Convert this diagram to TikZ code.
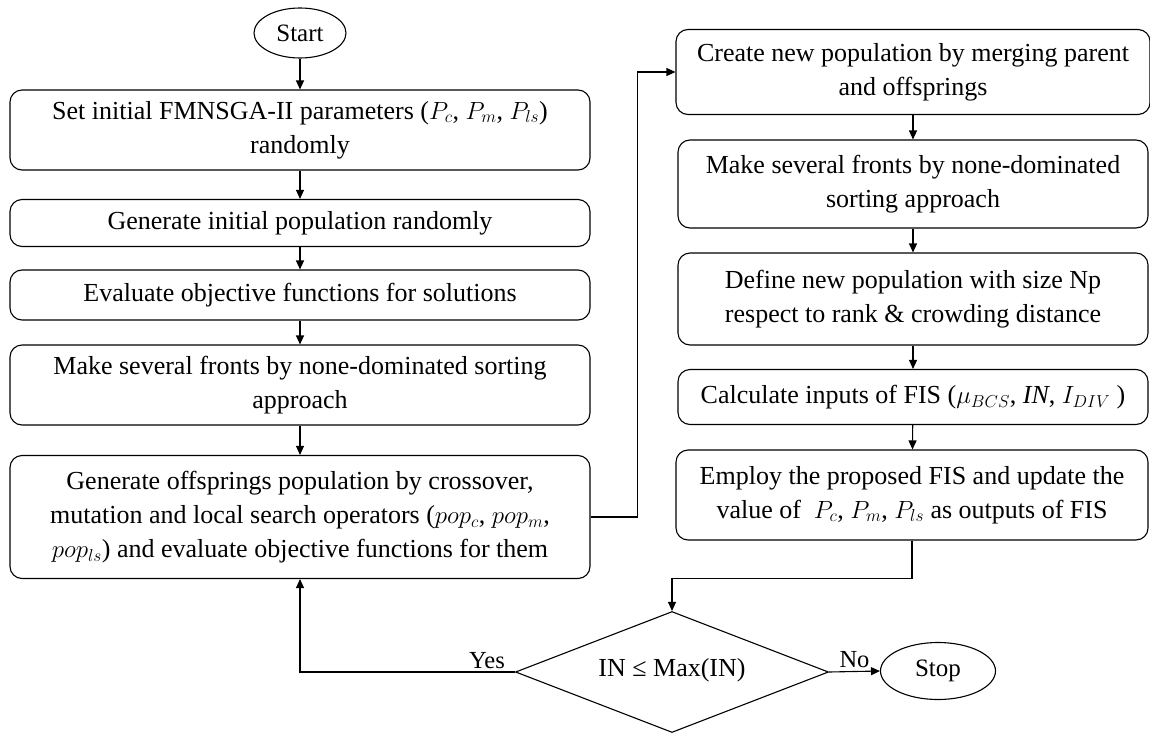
\documentclass[tikz,border=0pt]{standalone}
\usepackage{fontspec}
\setmainfont{Liberation Serif}
\usetikzlibrary{shapes.geometric}
\usetikzlibrary{arrows.meta}

\begin{document}
\begin{tikzpicture}[x=1pt,y=-1pt,
        every node/.style={font=\fontsize{26}{34}\selectfont},
        proc/.style={draw,rounded corners=12pt,align=center,inner sep=0pt,line width=1.1pt},
        term/.style={draw,ellipse,inner sep=0pt,line width=1.1pt,font=\fontsize{25}{28}\selectfont},
        decision/.style={draw,diamond,aspect=2.6,inner sep=0pt,line width=1.1pt,minimum width=313pt,minimum height=121pt},
        arr/.style={-{Triangle[length=9pt,width=8pt]},line width=1.1pt},
        lbl/.style={font=\fontsize{24.5}{28}\selectfont,inner sep=3pt},
    ]
    \useasboundingbox (0,0) rectangle (1150,733);

    % left column
    \node[term,minimum width=92pt,minimum height=50pt] (start) at (300,33) {Start};
    \node[proc,minimum width=580pt,minimum height=80pt] (init) at (300,130)
        {Set initial FMNSGA-II parameters ($P_c$, $P_m$, $P_{ls}$)\\randomly};
    \node[proc,minimum width=580pt,minimum height=47pt] (pop) at (300,223)
        {Generate initial population randomly};
    \node[proc,minimum width=580pt,minimum height=50pt] (eval) at (300,295)
        {Evaluate objective functions for solutions};
    \node[proc,minimum width=580pt,minimum height=80pt] (fronts) at (300,385)
        {Make several fronts by none-dominated sorting\\approach};
    \node[proc,minimum width=580pt,minimum height=123pt] (offs) at (300,517)
        {Generate offsprings population by crossover,\\
         mutation and local search operators ($pop_c$, $pop_m$,\\
         $pop_{ls}$) and evaluate objective functions for them};

    % right column
    \node[proc,minimum width=474pt,minimum height=85pt] (merge) at (913,72)
        {Create new population by merging parent\\and offsprings};
    \node[proc,minimum width=470pt,minimum height=88pt] (fronts2) at (913,184)
        {Make several fronts by none-dominated\\sorting approach};
    \node[proc,minimum width=470pt,minimum height=92pt] (define) at (913,299)
        {Define new population with size Np\\respect to rank \& crowding distance};
    \node[proc,minimum width=470pt,minimum height=55pt] (fisin) at (913,397)
        {Calculate inputs of FIS ($\mu_{BCS}$, \textit{IN}, $I_{DIV}$ )};
    \node[proc,minimum width=472pt,minimum height=90pt] (fis) at (912,495)
        {Employ the proposed FIS and update the\\value of \ $P_c$, $P_m$, $P_{ls}$ as outputs of FIS};

    % bottom
    \node[decision] (check) at (672,672) {\raisebox{10pt}{IN ≤ Max(IN)}};
    \node[term,minimum width=115pt,minimum height=57pt] (stop) at (938,671) {Stop};

    \draw[arr] (start) -- (init);
    \draw[arr] (init) -- (pop);
    \draw[arr] (pop) -- (eval);
    \draw[arr] (eval) -- (fronts);
    \draw[arr] (fronts) -- (offs);
    \draw[arr] (offs.east) -- ++(47,0) |- (merge.west);
    \draw[arr] (merge) -- (fronts2);
    \draw[arr] (fronts2) -- (define);
    \draw[arr] (define) -- (fisin);
    \draw[arr] (fisin) -- (fis);
    \draw[arr] (fis.south) -- ++(0,38) -| (check.north);
    \draw[arr] (check.west) -- node[lbl,above,pos=0.13]{Yes} (check.west -| offs.south) -- (offs.south);
    \draw[arr] (check.east) -- node[lbl,above]{No} (stop.west);
\end{tikzpicture}
\end{document}
